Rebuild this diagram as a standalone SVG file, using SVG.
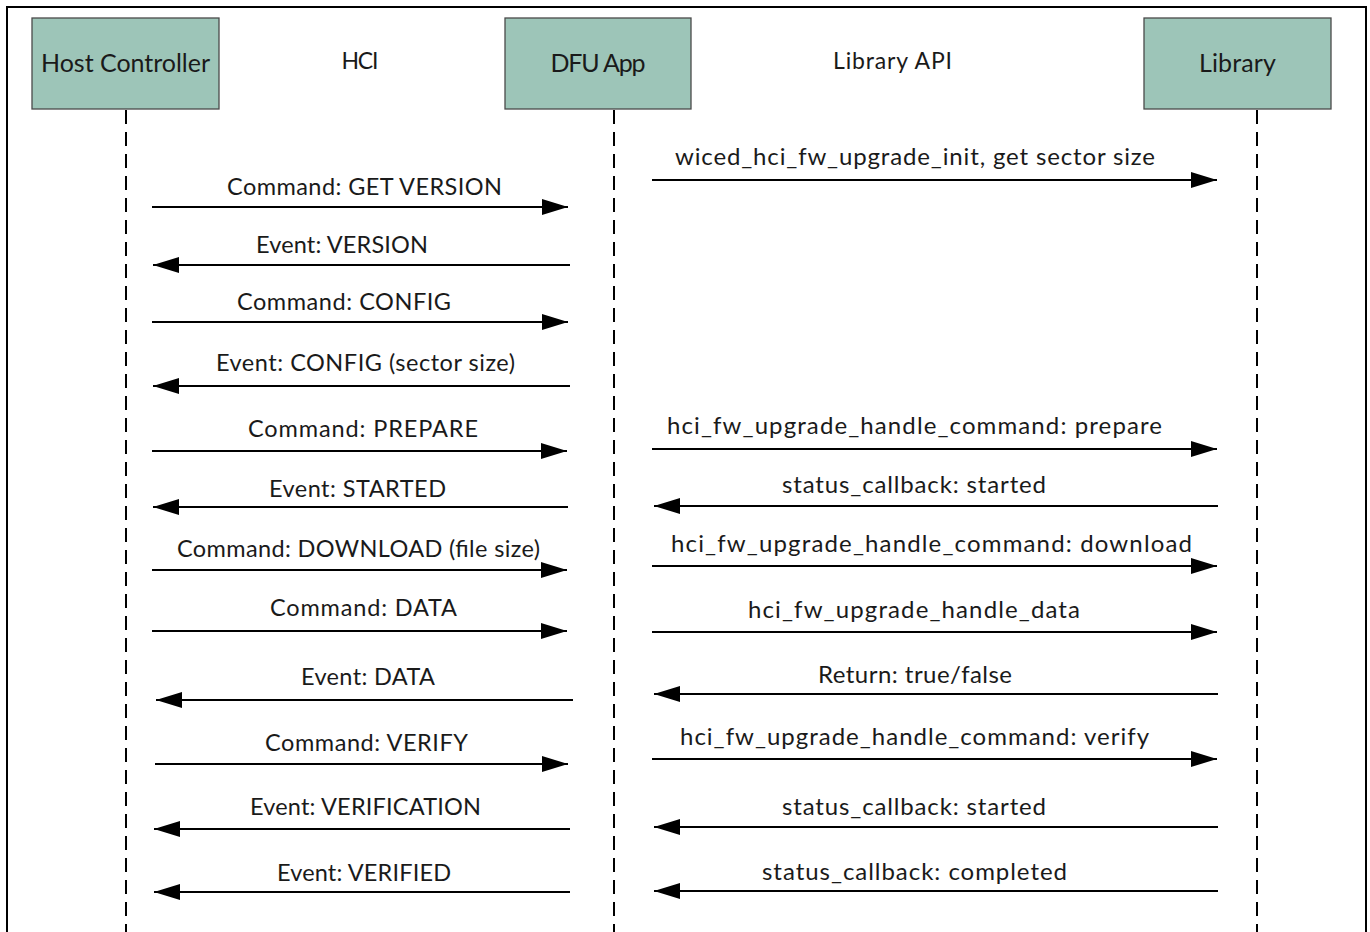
<svg xmlns="http://www.w3.org/2000/svg" width="1370" height="932" viewBox="0 0 1370 932">
<style>
.box{fill:#9dc5b8;stroke:#4a4a4a;stroke-width:1.3}
.lbl{font-family:Lato,"Liberation Sans",sans-serif;fill:#1a1a1a;text-anchor:middle}
.big{font-size:25px}
.hdr{font-size:23px}
.msg{font-size:23.5px}
.rmsg{font-size:24px}
.life{stroke:#000;stroke-width:2;stroke-dasharray:14 8;fill:none}
.arr{stroke:#000;stroke-width:2;fill:none}
</style>
<defs>
<marker id="ah" viewBox="0 0 26 16" refX="26" refY="8" markerWidth="26" markerHeight="16" markerUnits="userSpaceOnUse" orient="auto">
<path d="M0,0 L26,8 L0,16 Z" fill="#000"/>
</marker>
</defs>
<rect x="0" y="0" width="1370" height="932" fill="#fff"/>
<rect x="7" y="7" width="1359" height="940" fill="none" stroke="#000" stroke-width="2"/>

<g id="host-controller">
<rect class="box" x="32" y="18" width="187" height="91"/>
<text class="lbl big" x="125.5" y="72" textLength="169">Host Controller</text>
</g>
<g id="dfu-app">
<rect class="box" x="505" y="18" width="186" height="91"/>
<text class="lbl big" x="598" y="72" textLength="95">DFU App</text>
</g>
<g id="library">
<rect class="box" x="1144" y="18" width="187" height="91"/>
<text class="lbl big" x="1237.5" y="72" textLength="77">Library</text>
</g>
<g id="labels">
<text class="lbl hdr" x="360" y="69" textLength="37">HCI</text>
<text class="lbl hdr" x="892.5" y="69" textLength="119">Library API</text>
</g>

<g id="lifelines">
<line class="life" x1="126" y1="110" x2="126" y2="935"/>
<line class="life" x1="614" y1="110" x2="614" y2="935"/>
<line class="life" x1="1257" y1="110" x2="1257" y2="935"/>
</g>

<g id="connectors">
<line class="arr" x1="152" y1="207" x2="568" y2="207" marker-end="url(#ah)"/>
<line class="arr" x1="570" y1="265" x2="153" y2="265" marker-end="url(#ah)"/>
<line class="arr" x1="152" y1="322" x2="568" y2="322" marker-end="url(#ah)"/>
<line class="arr" x1="570" y1="386" x2="153" y2="386" marker-end="url(#ah)"/>
<line class="arr" x1="152" y1="451" x2="567" y2="451" marker-end="url(#ah)"/>
<line class="arr" x1="568" y1="507" x2="153" y2="507" marker-end="url(#ah)"/>
<line class="arr" x1="152" y1="570" x2="567" y2="570" marker-end="url(#ah)"/>
<line class="arr" x1="152" y1="631" x2="567" y2="631" marker-end="url(#ah)"/>
<line class="arr" x1="573" y1="700" x2="156" y2="700" marker-end="url(#ah)"/>
<line class="arr" x1="155" y1="764" x2="568" y2="764" marker-end="url(#ah)"/>
<line class="arr" x1="570" y1="829" x2="154" y2="829" marker-end="url(#ah)"/>
<line class="arr" x1="570" y1="892" x2="154" y2="892" marker-end="url(#ah)"/>

<line class="arr" x1="652" y1="180" x2="1217" y2="180" marker-end="url(#ah)"/>
<line class="arr" x1="652" y1="449" x2="1217" y2="449" marker-end="url(#ah)"/>
<line class="arr" x1="1218" y1="506" x2="654" y2="506" marker-end="url(#ah)"/>
<line class="arr" x1="652" y1="566" x2="1217" y2="566" marker-end="url(#ah)"/>
<line class="arr" x1="652" y1="632" x2="1217" y2="632" marker-end="url(#ah)"/>
<line class="arr" x1="1218" y1="694" x2="654" y2="694" marker-end="url(#ah)"/>
<line class="arr" x1="652" y1="759" x2="1217" y2="759" marker-end="url(#ah)"/>
<line class="arr" x1="1218" y1="827" x2="654" y2="827" marker-end="url(#ah)"/>
<line class="arr" x1="1218" y1="891" x2="654" y2="891" marker-end="url(#ah)"/>
</g>

<g id="messages">
<text class="lbl msg" x="364.5" y="195" textLength="275">Command: GET VERSION</text>
<text class="lbl msg" x="342" y="253" textLength="172">Event: VERSION</text>
<text class="lbl msg" x="344" y="310" textLength="214">Command: CONFIG</text>
<text class="lbl msg" x="365.5" y="371" textLength="299">Event: CONFIG (sector size)</text>
<text class="lbl msg" x="363" y="437" textLength="230">Command: PREPARE</text>
<text class="lbl msg" x="357.5" y="497" textLength="177">Event: STARTED</text>
<text class="lbl msg" x="358.5" y="557" textLength="363">Command: DOWNLOAD (file size)</text>
<text class="lbl msg" x="363.5" y="616" textLength="187">Command: DATA</text>
<text class="lbl msg" x="368" y="685" textLength="134">Event: DATA</text>
<text class="lbl msg" x="366.5" y="751" textLength="203">Command: VERIFY</text>
<text class="lbl msg" x="365.5" y="815" textLength="231">Event: VERIFICATION</text>
<text class="lbl msg" x="364" y="881" textLength="174">Event: VERIFIED</text>

<text class="lbl rmsg" x="915" y="165" textLength="480">wiced_hci_fw_upgrade_init, get sector size</text>
<text class="lbl rmsg" x="914.5" y="434" textLength="495">hci_fw_upgrade_handle_command: prepare</text>
<text class="lbl rmsg" x="914" y="493" textLength="264">status_callback: started</text>
<text class="lbl rmsg" x="931.5" y="552" textLength="521">hci_fw_upgrade_handle_command: download</text>
<text class="lbl rmsg" x="914" y="618" textLength="332">hci_fw_upgrade_handle_data</text>
<text class="lbl rmsg" x="915" y="683" textLength="194">Return: true/false</text>
<text class="lbl rmsg" x="914.5" y="745" textLength="469">hci_fw_upgrade_handle_command: verify</text>
<text class="lbl rmsg" x="914" y="815" textLength="264">status_callback: started</text>
<text class="lbl rmsg" x="914.5" y="880" textLength="305">status_callback: completed</text>
</g>
</svg>
